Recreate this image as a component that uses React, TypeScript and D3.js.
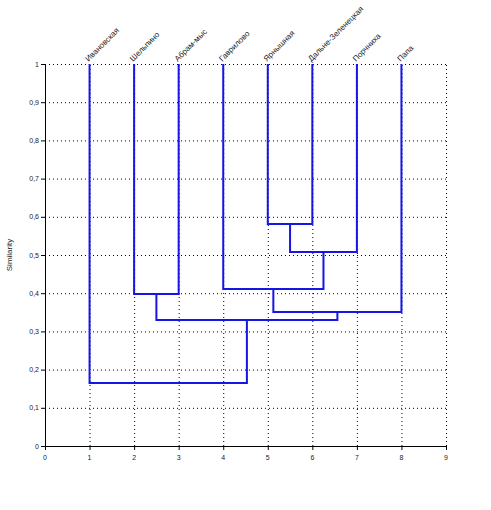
import React from "react";
import * as d3 from "d3";

const leafNames = ["Ивановская", "Шельпино", "Абрам-мыс", "Гаврилово", "Ярнышная", "Дальне-Зеленецкая", "Порчниха", "Папа"];
const leafPositions = [1, 2, 3, 4, 5, 6, 7, 8];
// merges: [left id, right id, similarity]; ids 0..7 leaves, 8+ clusters in order
const merges: [number, number, number][] = [
  [4, 5, 0.581],
  [8, 6, 0.508],
  [3, 9, 0.411],
  [10, 7, 0.351],
  [1, 2, 0.398],
  [12, 11, 0.33],
  [0, 13, 0.165],
];
const xTicks = [0, 1, 2, 3, 4, 5, 6, 7, 8, 9];
const yTicks = [0, 0.1, 0.2, 0.3, 0.4, 0.5, 0.6, 0.7, 0.8, 0.9, 1];

export default function App() {
  const x = d3.scaleLinear().domain([0, 9]).range([45, 446]);
  const y = d3.scaleLinear().domain([0, 1]).range([446, 64]);
  const blue = "#1515e6";
  const nodes: { pos: number; h: number }[] = leafPositions.map((p) => ({ pos: p, h: 1 }));
  const paths: string[] = [];
  merges.forEach(([a, b, s]) => {
    const na = nodes[a], nb = nodes[b];
    paths.push(`M${x(na.pos)},${y(na.h)}V${y(s)}H${x(nb.pos)}V${y(nb.h)}`);
    nodes.push({ pos: (na.pos + nb.pos) / 2, h: s });
  });
  const fmt = (v: number) => (v === 0 || v === 1 ? String(v) : v.toFixed(1).replace(".", ","));
  return (
    <svg width={491} height={510} style={{ display: "block", position: "absolute", left: 0, top: 0, background: "#fff" }} fontFamily="Liberation Sans, Arial, sans-serif">
      <g stroke="#000" strokeWidth={1} strokeDasharray="1,3">
        {yTicks.map((t) => (
          <line key={"h" + t} x1={x(0)} x2={x(9)} y1={y(t) + 0.5} y2={y(t) + 0.5} />
        ))}
        {xTicks.map((t) => (
          <line key={"v" + t} x1={x(t) + 0.5} x2={x(t) + 0.5} y1={y(0)} y2={y(1)} />
        ))}
      </g>
      <g stroke="#000" strokeWidth={1}>
        <line x1={x(0) + 0.5} x2={x(0) + 0.5} y1={y(0)} y2={y(1)} />
        <line x1={x(0)} x2={x(9)} y1={y(0) + 0.5} y2={y(0) + 0.5} />
        {yTicks.map((t) => (
          <line key={"yt" + t} x1={x(0) - 4} x2={x(0)} y1={y(t) + 0.5} y2={y(t) + 0.5} />
        ))}
        {xTicks.map((t) => (
          <line key={"xt" + t} x1={x(t) + 0.5} x2={x(t) + 0.5} y1={y(0)} y2={y(0) + 4} />
        ))}
      </g>
      <g fontSize={7} fill="#222">
        {yTicks.map((t) => (
          <text key={"yl" + t} x={x(0) - 6} y={y(t) + 2.5} textAnchor="end">{fmt(t)}</text>
        ))}
        {xTicks.map((t) => (
          <text key={"xl" + t} x={x(t)} y={y(0) + 14} textAnchor="middle">{t}</text>
        ))}
      </g>
      <text x={0} y={0} fontSize={8} fill="#222" textAnchor="middle" transform={`translate(12,${y(0.5)}) rotate(-90)`}>Similarity</text>
      <g fill="none" stroke={blue} strokeWidth={2}>
        {paths.map((d, i) => <path key={i} d={d} />)}
      </g>
      <g fontSize={8} fill="#222">
        {leafNames.map((n, i) => (
          <text key={n} x={0} y={0} transform={`translate(${x(leafPositions[i]) - 1},${y(1) - 2}) rotate(-45)`}>{n}</text>
        ))}
      </g>
    </svg>
  );
}
